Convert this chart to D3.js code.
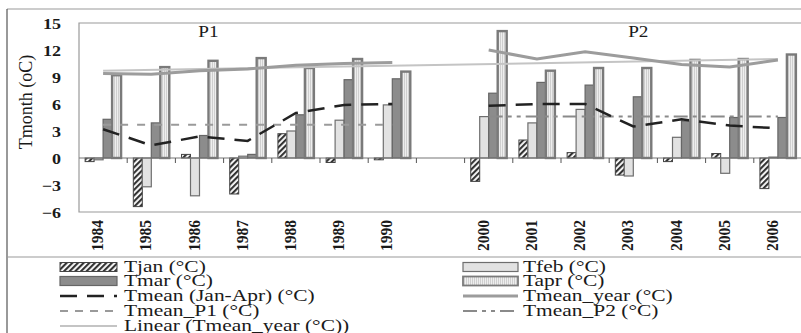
<!DOCTYPE html>
<html>
<head>
<meta charset="utf-8">
<script src="https://cdn.jsdelivr.net/npm/d3@7"></script>
<style>
  body { margin: 0; background: #fff; }
  svg text { font-family: "Liberation Serif", "Times New Roman", Tinos, "DejaVu Serif", serif; fill: #1a1a1a; }
</style>
</head>
<body>
<div id="chart"></div>
<script>
// categories (blank slot between the two periods)
const years = ['1984', '1985', '1986', '1987', '1988', '1989', '1990', ' ',
  '2000', '2001', '2002', '2003', '2004', '2005', '2006'];
const p1Years = years.slice(0, 7);
const p2Years = years.slice(8);

// monthly temperatures (°C)
const tjan = [-0.4, -5.4, 0.4, -4.0, 2.7, -0.5, -0.2, null, -2.6, 2.0, 0.6, -1.9, -0.4, 0.5, -3.4];
const tfeb = [-0.2, -3.2, -4.2, 0.2, 3.0, 4.2, 5.9, null, 4.6, 3.9, 5.4, -2.0, 2.3, -1.7, 0.1];
const tmar = [4.3, 3.9, 2.5, 0.4, 4.8, 8.7, 8.8, null, 7.2, 8.4, 8.1, 6.8, 4.1, 4.5, 4.5];
const tapr = [9.2, 10.1, 10.8, 11.1, 10.0, 11.0, 9.6, null, 14.1, 9.7, 10.0, 10.0, 10.9, 11.0, 11.5];

// line series
const tmeanJanAprP1 = [3.2, 1.4, 2.4, 1.9, 5.0, 5.9, 6.0];
const tmeanJanAprP2 = [5.8, 6.0, 6.0, 3.5, 4.3, 3.6, 3.3];
const tmeanYearP1 = [9.4, 9.3, 9.7, 9.9, 10.3, 10.5, 10.6];
const tmeanYearP2 = [12.0, 11.0, 11.8, 11.1, 10.4, 10.1, 10.9];
const tmeanP1 = [3.7];
const tmeanP2 = [4.6];
const linearTrend = [9.7, 11.0]; // at 1984 and at 2006

const yTicks = [-6, -3, 0, 3, 6, 9, 12, 15];
const periodLabels = ['P1', 'P2'];

const legendLeft = ['Tjan (°C)', 'Tmar (°C)', 'Tmean (Jan-Apr) (°C)', 'Tmean_P1 (°C)', 'Linear (Tmean_year (°C))'];
const legendRight = ['Tfeb (°C)', 'Tapr (°C)', 'Tmean_year (°C)', 'Tmean_P2 (°C)'];

const W = 801, H = 333;
const plot = { left: 79, right: 802, top: 23, bottom: 212 };
const sx = 1.2; // horizontal stretch of the source picture

const svg = d3.select('#chart').append('svg')
  .attr('width', W).attr('height', H);

const defs = svg.append('defs');
const hatch = defs.append('pattern').attr('id', 'hatch')
  .attr('patternUnits', 'userSpaceOnUse').attr('width', 4).attr('height', 4)
  .attr('patternTransform', 'rotate(45)');
hatch.append('rect').attr('width', 4).attr('height', 4).attr('fill', '#fff');
hatch.append('line').attr('x1', 1).attr('y1', 0).attr('x2', 1).attr('y2', 4)
  .attr('stroke', '#333').attr('stroke-width', 2.3);

const aprPat = defs.append('pattern').attr('id', 'aprpat')
  .attr('patternUnits', 'userSpaceOnUse').attr('width', 2).attr('height', 4);
aprPat.append('rect').attr('width', 2).attr('height', 4).attr('fill', '#eeeeee');
aprPat.append('line').attr('x1', 0.5).attr('y1', 0).attr('x2', 0.5).attr('y2', 4)
  .attr('stroke', '#cfcfcf').attr('stroke-width', 1);

const seriesStyle = {
  tjan: { fill: 'url(#hatch)', stroke: '#444', sw: 1 },
  tfeb: { fill: '#e2e2e2', stroke: '#6e6e6e', sw: 1.2 },
  tmar: { fill: '#8c8c8c', stroke: '#666', sw: 1.2 },
  tapr: { fill: 'url(#aprpat)', stroke: '#7a7a7a', sw: 2.4 }
};
const series = [
  { key: 'tjan', values: tjan },
  { key: 'tfeb', values: tfeb },
  { key: 'tmar', values: tmar },
  { key: 'tapr', values: tapr }
];

// scales
const x = d3.scaleBand().domain(years).range([plot.left, plot.right]);
const xs = d3.scaleBand().domain(series.map(s => s.key))
  .range([0, x.bandwidth()]).paddingInner(0).paddingOuter(0.68);
const y = d3.scaleLinear().domain([-6, 15]).range([plot.bottom, plot.top]);
const cx = d => x(d) + x.bandwidth() / 2;

// outer frame and separators
const frameColor = '#9a9a9a';
svg.append('line').attr('x1', 7).attr('x2', W).attr('y1', 9).attr('y2', 9)
  .attr('stroke', frameColor).attr('stroke-width', 1.2);
svg.append('line').attr('x1', 7).attr('x2', 7).attr('y1', 9).attr('y2', H)
  .attr('stroke', '#555').attr('stroke-width', 1.2);
svg.append('line').attr('x1', 7).attr('x2', W).attr('y1', 257).attr('y2', 257)
  .attr('stroke', frameColor).attr('stroke-width', 1.2);

// plot border
svg.append('path')
  .attr('d', `M${plot.right},${plot.top}H${plot.left}V${plot.bottom}H${plot.right}`)
  .attr('fill', 'none').attr('stroke', frameColor).attr('stroke-width', 1.2);

// bars
const barG = svg.append('g');
series.forEach(s => {
  const st = seriesStyle[s.key];
  barG.selectAll('.bar-' + s.key)
    .data(years.map((yr, i) => ({ yr, v: s.values[i] })).filter(d => d.v !== null))
    .join('rect')
    .attr('class', 'bar-' + s.key)
    .attr('x', d => x(d.yr) + xs(s.key))
    .attr('width', xs.bandwidth())
    .attr('y', d => Math.min(y(d.v), y(0)))
    .attr('height', d => Math.abs(y(d.v) - y(0)))
    .attr('fill', st.fill)
    .attr('stroke', st.stroke)
    .attr('stroke-width', st.sw);
});

// zero line with category ticks
svg.append('line').attr('x1', plot.left).attr('x2', plot.right)
  .attr('y1', y(0)).attr('y2', y(0)).attr('stroke', '#777').attr('stroke-width', 1.2);
svg.selectAll('.ctick').data(years.slice(1)).join('line')
  .attr('class', 'ctick')
  .attr('x1', d => x(d)).attr('x2', d => x(d))
  .attr('y1', y(0)).attr('y2', y(0) + 5)
  .attr('stroke', '#555').attr('stroke-width', 1);

// lines
const line = d3.line().x(d => cx(d.yr)).y(d => y(d.v));
const pts = (yrs, vals) => yrs.map((yr, i) => ({ yr, v: vals[i] }));

// linear trend
svg.append('path')
  .attr('d', line([{ yr: years[0], v: linearTrend[0] }, { yr: years[years.length - 1], v: linearTrend[1] }]))
  .attr('fill', 'none').attr('stroke', '#c4c4c4').attr('stroke-width', 2);

// period means
svg.append('path')
  .attr('d', line([{ yr: p1Years[0], v: tmeanP1[0] }, { yr: p1Years[p1Years.length - 1], v: tmeanP1[0] }]))
  .attr('fill', 'none').attr('stroke', '#9a9a9a').attr('stroke-width', 2)
  .attr('stroke-dasharray', '8,9');
svg.append('path')
  .attr('d', line([{ yr: p2Years[0], v: tmeanP2[0] }, { yr: p2Years[p2Years.length - 1], v: tmeanP2[0] }]))
  .attr('fill', 'none').attr('stroke', '#8a8a8a').attr('stroke-width', 2)
  .attr('stroke-dasharray', '14,5,4,5,4,5');

// yearly mean
[pts(p1Years, tmeanYearP1), pts(p2Years, tmeanYearP2)].forEach(p => {
  svg.append('path').attr('d', line(p))
    .attr('fill', 'none').attr('stroke', '#9c9c9c').attr('stroke-width', 3);
});

// Jan-Apr mean
[pts(p1Years, tmeanJanAprP1), pts(p2Years, tmeanJanAprP2)].forEach(p => {
  svg.append('path').attr('d', line(p))
    .attr('fill', 'none').attr('stroke', '#222').attr('stroke-width', 2.5)
    .attr('stroke-dasharray', '17,10');
});

// y axis labels
const yAxis = svg.append('g')
  .attr('transform', `translate(${plot.left},0)`)
  .call(d3.axisLeft(y).tickValues(yTicks).tickSize(0).tickPadding(0));
yAxis.select('.domain').remove();
yAxis.attr('font-family', null);
yAxis.selectAll('text')
  .attr('x', 0).attr('dy', '0.35em')
  .attr('transform', `translate(-18,0) scale(${sx},1)`)
  .style('font-size', '15px').style('font-weight', 'bold');

// x axis labels
const xAxis = svg.append('g')
  .attr('transform', `translate(0,${plot.bottom})`)
  .call(d3.axisBottom(x).tickSize(0).tickPadding(0));
xAxis.select('.domain').remove();
xAxis.attr('font-family', null);
xAxis.selectAll('text')
  .attr('x', 0).attr('y', 0).attr('dy', 0)
  .attr('transform', `translate(0,8) rotate(-90) scale(1,${sx * 0.95})`)
  .style('text-anchor', 'end')
  .style('font-size', '15.5px').style('font-weight', 'bold');

// y title
svg.append('text')
  .attr('transform', `translate(32,102) rotate(-90)`)
  .attr('text-anchor', 'middle')
  .style('font-size', '18px')
  .text('Tmonth (oC)');

// period labels
svg.selectAll('.plabel').data(periodLabels).join('text')
  .attr('class', 'plabel')
  .attr('transform', (d, i) => `translate(${i === 0 ? cx(p1Years[2]) + 9 : cx(p2Years[3]) + 5},37) scale(${sx},1)`)
  .attr('text-anchor', 'middle')
  .style('font-size', '16px')
  .text(d => d);

// legend
const rowY = [267, 281, 296, 311, 326];
const leftSw = { x: 60, w: 57 }, rightSw = { x: 463, w: 55 };
const lx = 1.3;
const lg = svg.append('g');

function swatch(kind, sw, cy) {
  if (seriesStyle[kind]) {
    const st = seriesStyle[kind];
    lg.append('rect').attr('x', sw.x).attr('y', cy - 4.5).attr('width', sw.w).attr('height', 9)
      .attr('fill', st.fill).attr('stroke', st.stroke).attr('stroke-width', Math.min(st.sw, 1.8));
    return;
  }
  const ln = lg.append('line').attr('x1', sw.x).attr('x2', sw.x + sw.w).attr('y1', cy).attr('y2', cy);
  if (kind === 'janapr') ln.attr('stroke', '#222').attr('stroke-width', 2.5).attr('stroke-dasharray', '17,10');
  if (kind === 'p1') ln.attr('stroke', '#9a9a9a').attr('stroke-width', 2).attr('stroke-dasharray', '8,7');
  if (kind === 'linear') ln.attr('stroke', '#c4c4c4').attr('stroke-width', 2);
  if (kind === 'year') ln.attr('stroke', '#9c9c9c').attr('stroke-width', 3);
  if (kind === 'p2') ln.attr('stroke', '#8a8a8a').attr('stroke-width', 2).attr('stroke-dasharray', '14,5,4,5,4,5');
}
const leftKinds = ['tjan', 'tmar', 'janapr', 'p1', 'linear'];
const rightKinds = ['tfeb', 'tapr', 'year', 'p2'];

legendLeft.forEach((t, i) => {
  swatch(leftKinds[i], leftSw, rowY[i]);
  lg.append('text').attr('transform', `translate(124,${rowY[i] + 5}) scale(${lx},1)`)
    .style('font-size', '16.5px').text(t);
});
legendRight.forEach((t, i) => {
  swatch(rightKinds[i], rightSw, rowY[i]);
  lg.append('text').attr('transform', `translate(523,${rowY[i] + 5}) scale(${lx},1)`)
    .style('font-size', '16.5px').text(t);
});
</script>
</body>
</html>
